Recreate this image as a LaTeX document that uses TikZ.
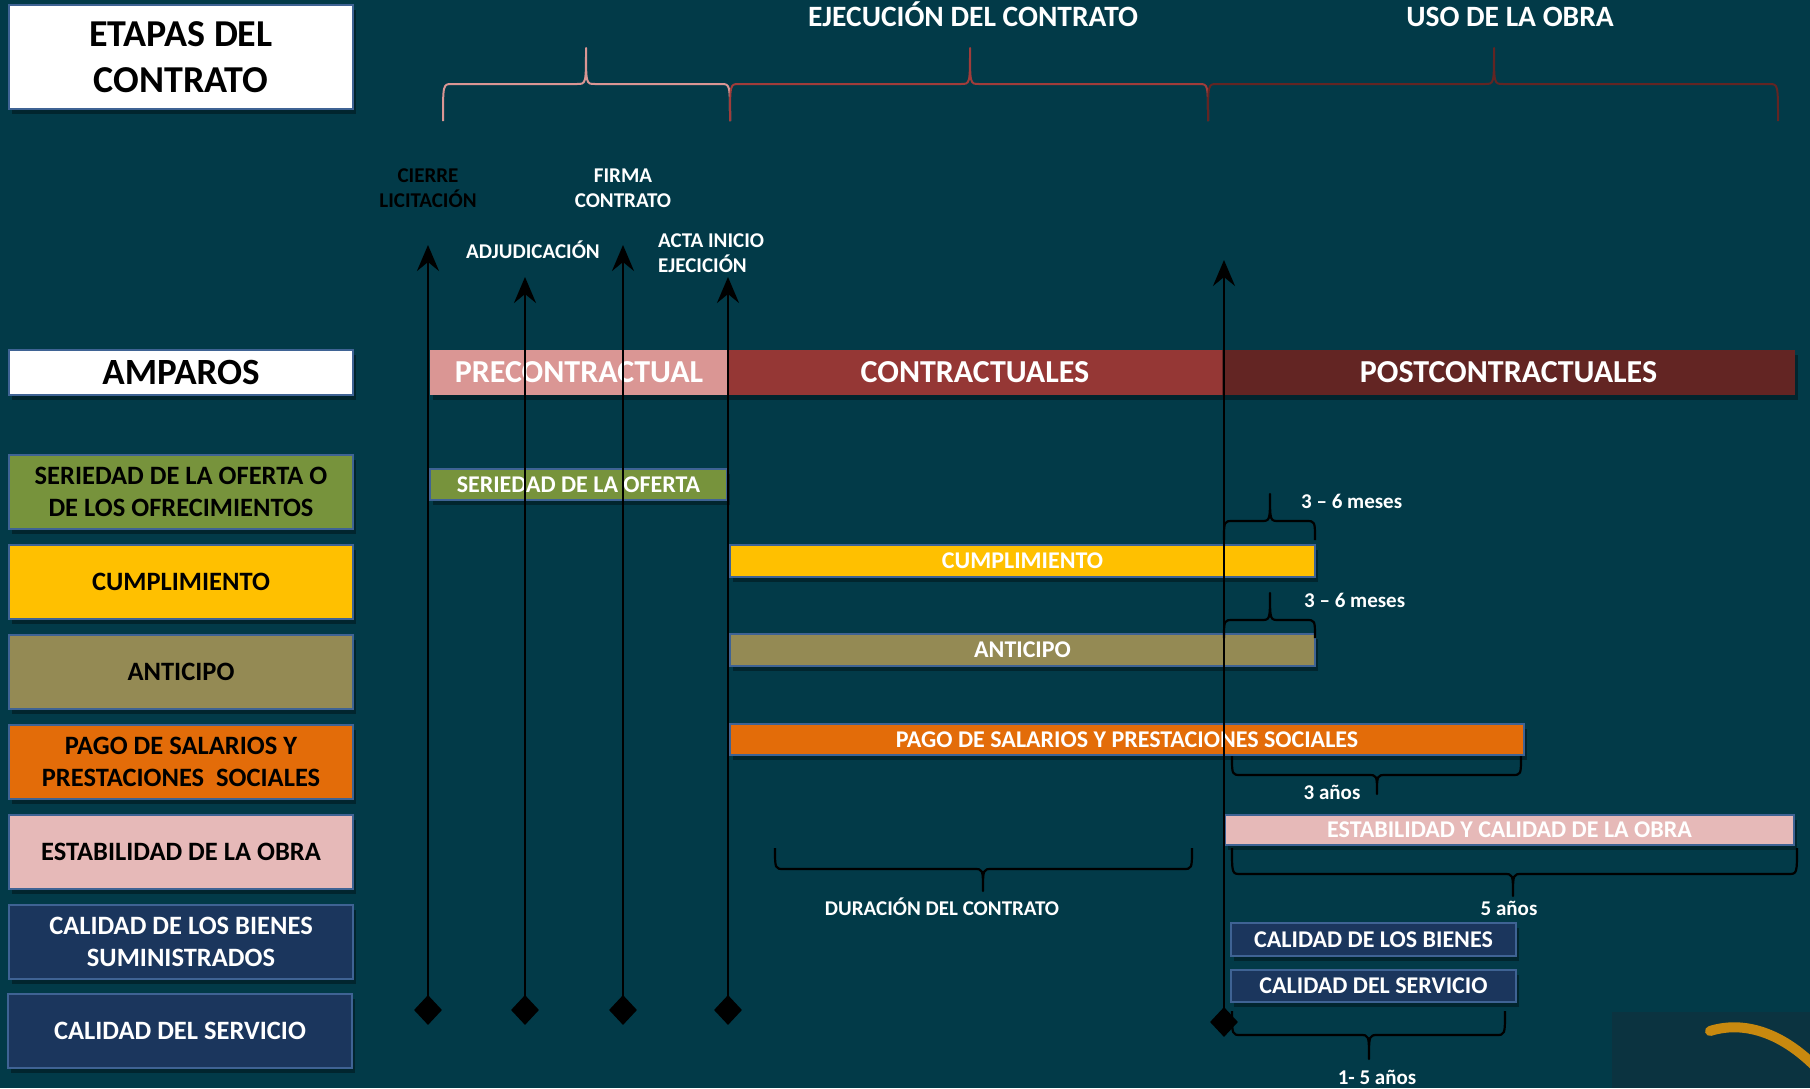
\documentclass[tikz,border=0pt]{standalone}
\usepackage{fontspec}
\setmainfont{Carlito}
\usetikzlibrary{arrows.meta,shapes.geometric,shadows}
\definecolor{bg}{HTML}{023A48}
\definecolor{corner}{HTML}{0B3340}
\definecolor{arcc}{HTML}{C8890F}
\definecolor{bord}{HTML}{3F6394}
\definecolor{pre}{HTML}{DA9694}
\definecolor{con}{HTML}{953735}
\definecolor{post}{HTML}{632523}
\definecolor{brtwo}{HTML}{A03C3A}
\definecolor{gr}{HTML}{77933C}
\definecolor{ye}{HTML}{FFC000}
\definecolor{ol}{HTML}{948A54}
\definecolor{orng}{HTML}{E36C09}
\definecolor{pk}{HTML}{E6B9B8}
\definecolor{nv}{HTML}{1B365D}
\newcommand\mybrace[7]{%
  \draw[#7] (#1,#4) .. controls (#1,#5) and (#1,#5) .. ({#1+9},#5) -- ({#3-9},#5)
    .. controls (#3,#5) and (#3,#5) .. (#3,#6)
    .. controls (#3,#5) and (#3,#5) .. ({#3+9},#5) -- ({#2-9},#5)
    .. controls (#2,#5) and (#2,#5) .. (#2,#4);}
\tikzset{
  shd/.style={drop shadow={opacity=0.35,shadow xshift=3pt,shadow yshift=-5pt,fill=black}},
  headbox/.style={draw=bord, line width=2.5pt, fill=white, minimum width=344pt, inner sep=0pt, align=center, shd},
  lbox/.style={draw=bord, line width=2pt, minimum width=344pt, minimum height=74pt, align=center,
    font=\fontsize{26.5}{32}\selectfont\bfseries, inner sep=0pt, shd},
  amp/.style={inner sep=0pt, minimum height=45pt, text=white, font=\fontsize{32}{36}\selectfont\bfseries, shd},
  bar/.style={draw=bord, line width=1.5pt, inner sep=0pt, text=white,
    font=\fontsize{24}{26}\selectfont\bfseries, shd},
  lbl/.style={text=white, font=\fontsize{21}{25}\selectfont\bfseries, align=center, inner sep=0pt},
  toplbl/.style={text=white, font=\fontsize{29.5}{32}\selectfont\bfseries, inner sep=0pt, anchor=base},
  milearrow/.style={line width=2.5pt, black, -{Stealth[length=26pt,width=22pt,inset=9pt]}},
  dia/.style={diamond, fill=black, minimum width=28pt, minimum height=30pt, inner sep=0pt},
  brc/.style={line width=2.2pt, black, line join=round},
  tbrc/.style={line width=2pt, line join=round},
}
\begin{document}
\begin{tikzpicture}[x=1pt,y=-1pt]
\useasboundingbox (0,0) rectangle (1810,1088);
\fill[bg] (0,0) rectangle (1810,1088);
% corner decoration
\fill[corner] (1612,1012) rectangle (1810,1088);
\begin{scope}
  \clip (1612,1012) rectangle (1810,1088);
  \draw[arcc, line width=10pt, line cap=round] (1710,1031) .. controls (1748,1019) and (1792,1036) .. (1830,1083);
\end{scope}

% headers
\node[headbox, minimum height=104pt, font=\fontsize{38}{46}\selectfont\bfseries] (etapas) at (181,57) {ETAPAS DEL\\CONTRATO};
\node[headbox, minimum height=45pt, font=\fontsize{37}{40}\selectfont\bfseries] (amparos) at (181,372.5) {AMPAROS};

\node[toplbl] (ejec) at (973,26) {EJECUCIÓN DEL CONTRATO};
\node[toplbl] (uso) at (1510,26) {USO DE LA OBRA};

% top braces
\mybrace{443}{730}{586}{121}{84}{48}{tbrc,pre}
\mybrace{730}{1208}{970}{121}{84}{48}{tbrc,brtwo}
\mybrace{1208}{1778}{1494}{121}{84}{48}{tbrc,post}

% left column
\node[lbox, fill=gr] (lser) at (181,492) {SERIEDAD DE LA OFERTA O\\DE LOS OFRECIMIENTOS};
\node[lbox, fill=ye] (lcum) at (181,582) {CUMPLIMIENTO};
\node[lbox, fill=ol] (lant) at (181,672) {ANTICIPO};
\node[lbox, fill=orng] (lpag) at (181,762) {PAGO DE SALARIOS Y\\PRESTACIONES\ \ SOCIALES};
\node[lbox, fill=pk] (lest) at (181,852) {ESTABILIDAD DE LA OBRA};
\node[lbox, fill=nv, text=white] (lbie) at (181,942) {CALIDAD DE LOS BIENES\\SUMINISTRADOS};
\node[lbox, fill=nv, text=white] (lsrv) at (180,1031) {CALIDAD DEL SERVICIO};

% amparos bars
\node[amp, fill=pre, minimum width=298pt] (apre) at (579,372.5) {PRECONTRACTUAL};
\node[amp, fill=con, minimum width=494pt] (acon) at (975,372.5) {CONTRACTUALES};
\node[amp, fill=post, minimum width=573pt] (apost) at (1508.5,372.5) {POSTCONTRACTUALES};

% timeline bars
\node[bar, fill=gr, minimum width=297pt, minimum height=31pt] (bser) at (578.5,484.5) {SERIEDAD DE LA OFERTA};
\node[bar, fill=ye, minimum width=585pt, minimum height=32pt] (bcum) at (1022.5,561) {CUMPLIMIENTO};
\node[bar, fill=ol, minimum width=585pt, minimum height=32pt] (bant) at (1022.5,650) {ANTICIPO};
\node[bar, fill=orng, minimum width=794pt, minimum height=31pt] (bpag) at (1127,739.5) {PAGO DE SALARIOS Y PRESTACIONES SOCIALES};
\node[bar, fill=pk, minimum width=569pt, minimum height=30pt] (best) at (1509.5,830) {ESTABILIDAD Y CALIDAD DE LA OBRA};
\node[bar, fill=nv, minimum width=285pt, minimum height=33pt] (bbie) at (1373.5,939.5) {CALIDAD DE LOS BIENES};
\node[bar, fill=nv, minimum width=285pt, minimum height=32pt] (bsrv) at (1373.5,986) {CALIDAD DEL SERVICIO};

% black braces and labels
\mybrace{1224}{1315}{1270}{540}{521}{494}{brc}
\node[lbl, anchor=west] (m1) at (1301,501) {3 – 6 meses};
\mybrace{1224}{1315}{1270}{638}{620}{593}{brc}
\node[lbl, anchor=west] (m2) at (1304,600) {3 – 6 meses};
\mybrace{1232}{1521}{1377}{756}{775}{794}{brc}
\node[lbl] (a3) at (1332,792) {3 años};
\mybrace{775}{1192}{983}{848}{869}{891}{brc}
\node[lbl] (dur) at (942,907) {DURACIÓN DEL CONTRATO};
\mybrace{1232}{1797}{1513}{848}{874}{896}{brc}
\node[lbl] (a5) at (1509,908) {5 años};
\mybrace{1232}{1505}{1369}{1011}{1035}{1059}{brc}
\node[lbl] (a15) at (1377,1077) {1- 5 años};

% milestone labels
\node[lbl, text=black] (cierre) at (428,188) {CIERRE\\LICITACIÓN};
\node[lbl] (firma) at (623,188) {FIRMA\\CONTRATO};
\node[lbl] (adj) at (533,250) {ADJUDICACIÓN};
\node[lbl, align=left, anchor=west] (acta) at (658,253) {ACTA INICIO\\EJECICIÓN};

% milestone arrows
\coordinate (t1) at (428,245);
\coordinate (t2) at (525,277);
\coordinate (t3) at (623,245);
\coordinate (t4) at (728,277);
\coordinate (t5) at (1224,260);
\node[dia] (d1) at (428,1010) {};
\node[dia] (d2) at (525,1010) {};
\node[dia] (d3) at (623,1010) {};
\node[dia] (d4) at (728,1010) {};
\node[dia] (d5) at (1224,1022) {};
\draw[milearrow] (d1.center) -- (t1);
\draw[milearrow] (d2.center) -- (t2);
\draw[milearrow] (d3.center) -- (t3);
\draw[milearrow] (d4.center) -- (t4);
\draw[milearrow] (d5.center) -- (t5);
\end{tikzpicture}
\end{document}
